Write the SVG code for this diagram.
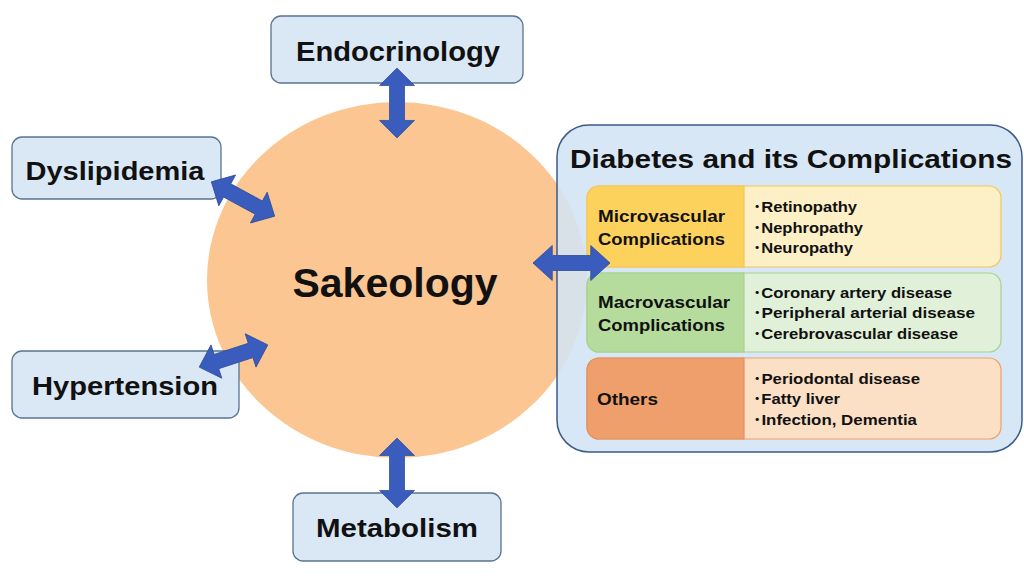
<svg xmlns="http://www.w3.org/2000/svg" xmlns:xlink="http://www.w3.org/1999/xlink" width="1024" height="576" viewBox="0 0 1024 576">
<style>
.box{fill:#dae8f6;stroke:#5a7391;stroke-width:1.3}
.lbl{font-family:"Liberation Sans",Arial,sans-serif;font-weight:bold;fill:#111;text-anchor:middle}
.t{font-family:"Liberation Sans",Arial,sans-serif;font-weight:bold;fill:#111}
.it{font-family:"Liberation Sans","Noto Sans CJK JP",Arial,sans-serif;font-weight:bold;fill:#111;font-size:15px}
.arr{fill:#3a5cbc;stroke:#2f4f9e;stroke-width:0.8}
</style>
<defs>
<path id="darr" d="M-36,0 L-18,-17.5 L-18,-7.5 L18,-7.5 L18,-17.5 L36,0 L18,17.5 L18,7.5 L-18,7.5 L-18,17.5 Z"/>
</defs>
<rect width="1024" height="576" fill="#ffffff"/>

<g id="sakeology">
<ellipse cx="397" cy="280" rx="190" ry="178" fill="#fbc692"/>
<text class="lbl" x="395" y="297" font-size="41">Sakeology</text>
</g>

<g id="endocrinology">
<rect class="box" x="271" y="16" width="252" height="67" rx="10"/>
<text class="lbl" x="398" y="61" font-size="27" textLength="204" lengthAdjust="spacingAndGlyphs">Endocrinology</text>
</g>

<g id="dyslipidemia">
<rect class="box" x="12" y="137" width="209" height="62" rx="10"/>
<text class="lbl" x="115" y="180" font-size="25" textLength="179" lengthAdjust="spacingAndGlyphs">Dyslipidemia</text>
</g>

<g id="hypertension">
<rect class="box" x="12" y="351" width="227" height="67" rx="10"/>
<text class="lbl" x="125" y="395" font-size="26" textLength="186" lengthAdjust="spacingAndGlyphs">Hypertension</text>
</g>

<g id="metabolism">
<rect class="box" x="293" y="493" width="208" height="68" rx="10"/>
<text class="lbl" x="397" y="537" font-size="26" textLength="162" lengthAdjust="spacingAndGlyphs">Metabolism</text>
</g>

<g id="diabetes">
<rect x="557" y="125" width="465" height="327" rx="32" fill="#d3e4f4" fill-opacity="0.88" stroke="#3b5a8a" stroke-width="1.5"/>
<text class="t" x="570" y="168" font-size="26.5" textLength="442" lengthAdjust="spacingAndGlyphs">Diabetes and its Complications</text>

<g id="microvascular">
<rect x="587" y="186" width="414" height="81" rx="12" fill="#fdefc6" stroke="#f3c65a" stroke-width="1.2"/>
<path d="M599,186 H744 V267 H599 A12,12 0 0 1 587,255 V198 A12,12 0 0 1 599,186 Z" fill="#fdd25c" stroke="#f3c65a" stroke-width="1.2"/>
<text class="t" x="598" y="222" font-size="17" textLength="127" lengthAdjust="spacingAndGlyphs">Microvascular</text>
<text class="t" x="598" y="245" font-size="17" textLength="127" lengthAdjust="spacingAndGlyphs">Complications</text>
<text class="it" x="753" y="212" textLength="104" lengthAdjust="spacingAndGlyphs">･Retinopathy</text>
<text class="it" x="753" y="233" textLength="110" lengthAdjust="spacingAndGlyphs">･Nephropathy</text>
<text class="it" x="753" y="253" textLength="100" lengthAdjust="spacingAndGlyphs">･Neuropathy</text>
</g>

<g id="macrovascular">
<rect x="587" y="273" width="414" height="79" rx="12" fill="#e1f0d8" stroke="#a7d18e" stroke-width="1.2"/>
<path d="M599,273 H744 V352 H599 A12,12 0 0 1 587,340 V285 A12,12 0 0 1 599,273 Z" fill="#b5db9d" stroke="#a7d18e" stroke-width="1.2"/>
<text class="t" x="598" y="308" font-size="17" textLength="132" lengthAdjust="spacingAndGlyphs">Macrovascular</text>
<text class="t" x="598" y="331" font-size="17" textLength="127" lengthAdjust="spacingAndGlyphs">Complications</text>
<text class="it" x="753" y="298" textLength="199" lengthAdjust="spacingAndGlyphs">･Coronary artery disease</text>
<text class="it" x="753" y="318" textLength="222" lengthAdjust="spacingAndGlyphs">･Peripheral arterial disease</text>
<text class="it" x="753" y="339" textLength="205" lengthAdjust="spacingAndGlyphs">･Cerebrovascular disease</text>
</g>

<g id="others">
<rect x="587" y="358" width="414" height="81" rx="12" fill="#fce0c6" stroke="#eda06c" stroke-width="1.2"/>
<path d="M599,358 H744 V439 H599 A12,12 0 0 1 587,427 V370 A12,12 0 0 1 599,358 Z" fill="#ee9f6c" stroke="#e39060" stroke-width="1.2"/>
<text class="t" x="597" y="405" font-size="17" textLength="61" lengthAdjust="spacingAndGlyphs">Others</text>
<text class="it" x="753" y="384" textLength="167" lengthAdjust="spacingAndGlyphs">･Periodontal disease</text>
<text class="it" x="753" y="404" textLength="87" lengthAdjust="spacingAndGlyphs">･Fatty liver</text>
<text class="it" x="753" y="425" textLength="164" lengthAdjust="spacingAndGlyphs">･Infection, Dementia</text>
</g>
</g>

<g id="connectors">
<use xlink:href="#darr" class="arr" transform="translate(397,103) rotate(90) scale(0.97,1)"/>
<use xlink:href="#darr" class="arr" transform="translate(397,473) rotate(90) scale(0.97,1)"/>
<use xlink:href="#darr" class="arr" transform="translate(571.5,263) scale(1.07,1)"/>
<use xlink:href="#darr" class="arr" transform="translate(243,199) rotate(28.5)"/>
<use xlink:href="#darr" class="arr" transform="translate(233.5,356) rotate(-18)"/>
</g>
</svg>
